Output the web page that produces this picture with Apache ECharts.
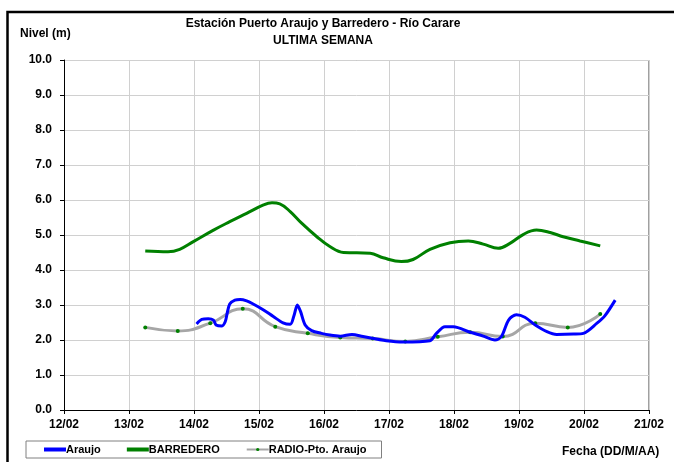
<!DOCTYPE html>
<html>
<head>
<meta charset="utf-8">
<script src="https://cdn.jsdelivr.net/npm/echarts@6/dist/echarts.min.js"></script>
<style>
    html, body { margin: 0; padding: 0; background: #fff; }
    #chart { width: 674px; height: 462px; }
</style>
</head>
<body>
<div id="chart"></div>
<script>
// dias en formato decimal (12 = 12/02), nivel en metros
var araujoDias = [14.04, 14.12, 14.22, 14.30, 14.34, 14.43, 14.48, 14.51, 14.55, 14.63, 14.71, 14.81, 14.91, 15.07, 15.22, 15.37, 15.48, 15.54, 15.59, 15.64, 15.71, 15.81, 15.96, 16.09, 16.25, 16.43, 16.60, 16.96, 17.22, 17.63, 17.73, 17.86, 17.99, 18.25, 18.45, 18.63, 18.73, 18.84, 18.96, 19.09, 19.25, 19.43, 19.58, 19.84, 19.99, 20.20, 20.32, 20.48];
var araujoNivel = [2.46, 2.59, 2.61, 2.57, 2.43, 2.40, 2.52, 2.76, 3.03, 3.14, 3.16, 3.12, 3.03, 2.86, 2.67, 2.49, 2.45, 2.71, 3.00, 2.81, 2.43, 2.27, 2.19, 2.14, 2.11, 2.16, 2.10, 1.98, 1.94, 1.98, 2.19, 2.38, 2.38, 2.22, 2.11, 2.00, 2.10, 2.57, 2.72, 2.65, 2.43, 2.24, 2.16, 2.17, 2.19, 2.48, 2.69, 3.14];

var barrederoDias = [13.25, 13.60, 13.78, 13.99, 14.30, 14.55, 14.81, 15.07, 15.20, 15.32, 15.48, 15.66, 15.89, 16.09, 16.30, 16.71, 16.91, 17.19, 17.37, 17.63, 17.94, 18.22, 18.45, 18.68, 18.86, 19.07, 19.27, 19.48, 19.68, 19.94, 20.25];
var barrederoNivel = [4.54, 4.52, 4.59, 4.81, 5.14, 5.38, 5.62, 5.86, 5.92, 5.89, 5.67, 5.33, 4.95, 4.67, 4.50, 4.48, 4.35, 4.24, 4.30, 4.59, 4.78, 4.83, 4.74, 4.62, 4.76, 5.02, 5.14, 5.07, 4.95, 4.83, 4.69];

var radioDias = [13.25, 13.75, 14.25, 14.75, 15.25, 15.75, 16.25, 16.75, 17.25, 17.75, 18.25, 18.75, 19.25, 19.75, 20.25];
var radioNivel = [2.36, 2.26, 2.48, 2.89, 2.38, 2.19, 2.07, 2.04, 1.96, 2.09, 2.22, 2.10, 2.48, 2.36, 2.74];

function pares(dias, nivel) {
    return dias.map(function (d, i) { return [d, nivel[i]]; });
}

var fuente = '"Liberation Sans", Arial, sans-serif';

var chart = echarts.init(document.getElementById('chart'));
var option = {
    backgroundColor: '#fff',
    animation: false,
    textStyle: { fontFamily: fuente },
    title: [
        {
            text: 'Estación Puerto Araujo y Barredero - Río Carare\nULTIMA SEMANA',
            left: 318, top: 10, textAlign: 'center',
            textStyle: { fontSize: 12, fontWeight: 'bold', color: '#000', lineHeight: 17, fontFamily: fuente }
        },
        {
            text: 'Nivel (m)',
            left: 15, top: 23,
            textStyle: { fontSize: 12, fontWeight: 'bold', color: '#000', fontFamily: fuente }
        },
        {
            text: 'Fecha (DD/M/AA)',
            left: 557, top: 441,
            textStyle: { fontSize: 12, fontWeight: 'bold', color: '#000', fontFamily: fuente }
        }
    ],
    legend: {
        left: 26, top: 441,
        orient: 'horizontal',
        borderColor: '#808080', borderWidth: 1,
        padding: [3, 15, 3, 18],
        itemWidth: 22, itemHeight: 4, itemGap: 26,
        textStyle: { fontSize: 11, fontWeight: 'bold', color: '#000', fontFamily: fuente, padding: [0, 0, 0, -5] },
        data: [
            { name: 'Araujo', icon: 'rect' },
            { name: 'BARREDERO', icon: 'rect' },
            { name: 'RADIO-Pto. Araujo' }
        ]
    },
    grid: { left: 64, right: 25, top: 60, bottom: 52 },
    xAxis: {
        type: 'value', min: 12, max: 21, interval: 1,
        axisLine: { show: true, onZero: false, lineStyle: { color: '#000', width: 1 } },
        axisTick: { show: true, inside: false, length: 4, lineStyle: { color: '#000' } },
        axisLabel: {
            margin: 9, fontSize: 12, fontWeight: 'bold', color: '#000', fontFamily: fuente,
            formatter: function (v) { return (v < 10 ? '0' : '') + v + '/02'; }
        },
        splitLine: { show: true, lineStyle: { color: '#D0D0D0', width: 1 } }
    },
    yAxis: {
        type: 'value', min: 0, max: 10, interval: 1,
        axisLine: { show: true, lineStyle: { color: '#000', width: 1 } },
        axisTick: { show: true, inside: false, length: 4, lineStyle: { color: '#000' } },
        axisLabel: {
            margin: 12, fontSize: 12, fontWeight: 'bold', color: '#000', fontFamily: fuente,
            formatter: function (v) { return v.toFixed(1); }
        },
        splitLine: { show: true, lineStyle: { color: '#D0D0D0', width: 1 } }
    },
    series: [
        {
            name: 'Araujo', type: 'line', smooth: 0.3,
            symbol: 'none', data: pares(araujoDias, araujoNivel),
            itemStyle: { color: '#0000FF' },
            lineStyle: { color: '#0000FF', width: 3 }, z: 4
        },
        {
            name: 'BARREDERO', type: 'line', smooth: 0.4,
            symbol: 'none', data: pares(barrederoDias, barrederoNivel),
            itemStyle: { color: '#008000' },
            lineStyle: { color: '#008000', width: 3 }, z: 3
        },
        {
            name: 'RADIO-Pto. Araujo', type: 'line', smooth: 0.5,
            symbol: 'circle', symbolSize: 4, data: pares(radioDias, radioNivel),
            itemStyle: { color: '#008000', borderWidth: 0 },
            lineStyle: { color: '#A6A6A6', width: 3 }, z: 2
        }
    ],
    graphic: [
        {
            type: 'polyline', silent: true,
            shape: { points: [[7.5, 462], [7.5, 12], [674, 12]] },
            style: { stroke: '#000', lineWidth: 2.5, fill: null }
        },
        {
            type: 'polyline', silent: true,
            shape: { points: [[64, 60.5], [648.5, 60.5], [648.5, 410]] },
            style: { stroke: '#A0A0A0', lineWidth: 1, fill: null }
        }
    ]
};
chart.setOption(option);
</script>
</body>
</html>
